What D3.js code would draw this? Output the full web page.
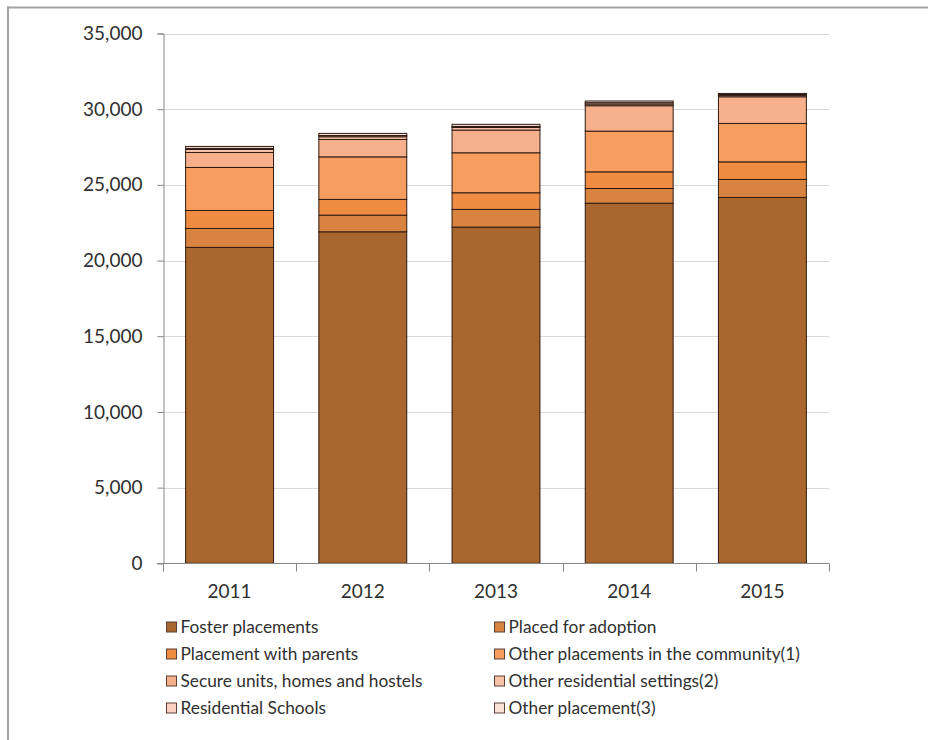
<!DOCTYPE html>
<html>
<head>
<meta charset="utf-8">
<script src="https://cdn.jsdelivr.net/npm/d3@7/dist/d3.min.js"></script>
<style>
  html, body { margin: 0; padding: 0; background: #fff; overflow: hidden; }
  svg { display: block; }
  text { font-family: Lato, "Open Sans", sans-serif; fill: #303030; }
</style>
</head>
<body>
<svg id="chart" width="928" height="740"></svg>
<script>
// Children looked after by placement type, 2011-2015
const years = ["2011", "2012", "2013", "2014", "2015"];

const fosterPlacements      = [20870, 21900, 22210, 23790, 24170];
const placedForAdoption     = [1250, 1100, 1170, 970, 1190];
const placementWithParents  = [1190, 1040, 1100, 1100, 1160];
const otherCommunity        = [2840, 2810, 2640, 2690, 2540];
const secureUnits           = [990, 1150, 1500, 1680, 1760];
const otherResidential      = [200, 180, 170, 110, 90];
const residentialSchools    = [70, 80, 70, 90, 60];
const otherPlacement        = [130, 140, 140, 110, 70];

const seriesNames = [
  "Foster placements",
  "Placed for adoption",
  "Placement with parents",
  "Other placements in the community(1)",
  "Secure units, homes and hostels",
  "Other residential settings(2)",
  "Residential Schools",
  "Other placement(3)"
];
const seriesValues = [
  fosterPlacements, placedForAdoption, placementWithParents, otherCommunity,
  secureUnits, otherResidential, residentialSchools, otherPlacement
];
const seriesColors = [
  "#a9672f", "#d98340", "#ef8c42", "#f79d5f",
  "#f6b18c", "#f7c2a8", "#f9d0c2", "#fbe2d8"
];
const yTicks = [0, 5000, 10000, 15000, 20000, 25000, 30000, 35000];

// Build rows for d3.stack
const rows = years.map((y, i) => {
  const r = { year: y };
  seriesNames.forEach((n, k) => { r[n] = seriesValues[k][i]; });
  return r;
});
const stacked = d3.stack().keys(seriesNames)(rows);

const svg = d3.select("#chart");

// Outer frame: top and left edges (the box runs past the right and bottom)
const frame = svg.append("g")
  .attr("stroke", "#a3a3a3")
  .attr("stroke-width", 2);
frame.append("line").attr("x1", 7).attr("x2", 928).attr("y1", 7.5).attr("y2", 7.5);
frame.append("line").attr("x1", 8).attr("x2", 8).attr("y1", 6.5).attr("y2", 740);

const plot = { left: 163, right: 829, top: 33.5, bottom: 563.3 };

const x = d3.scaleBand()
  .domain(years)
  .range([plot.left, plot.right])
  .paddingInner(0.34)
  .paddingOuter(0.17);

const y = d3.scaleLinear()
  .domain([0, 35000])
  .range([plot.bottom, plot.top]);

// Horizontal gridlines
svg.append("g")
  .selectAll("line")
  .data(yTicks.filter(t => t > 0))
  .join("line")
  .attr("x1", plot.left).attr("x2", plot.right)
  .attr("y1", d => Math.round(y(d)) + 0.5)
  .attr("y2", d => Math.round(y(d)) + 0.5)
  .attr("stroke", "#d9d9d9")
  .attr("stroke-width", 1);

// Stacked bars
svg.append("g")
  .selectAll("g")
  .data(stacked)
  .join("g")
  .attr("fill", (d, i) => seriesColors[i])
  .selectAll("rect")
  .data(d => d)
  .join("rect")
  .attr("x", d => x(d.data.year))
  .attr("width", x.bandwidth())
  .attr("y", d => y(d[1]))
  .attr("height", d => y(d[0]) - y(d[1]))
  .attr("stroke", "#2e1a12")
  .attr("stroke-width", 1);

// Y axis
const yAxis = d3.axisLeft(y)
  .tickValues(yTicks)
  .tickSize(6)
  .tickPadding(15)
  .tickFormat(d3.format(","));
const gy = svg.append("g")
  .attr("transform", `translate(${plot.left + 0.5},0)`)
  .call(yAxis);
gy.select(".domain").attr("stroke", "#868686");
gy.selectAll(".tick line").attr("stroke", "#868686");
gy.selectAll(".tick text")
  .attr("font-size", 19)
  .attr("fill", "#303030")
  .style("font-family", "Lato, 'Open Sans', sans-serif");

// X axis with ticks at category boundaries
const gx = svg.append("g")
  .attr("transform", `translate(0,${Math.round(plot.bottom) + 0.5})`);
gx.append("line")
  .attr("x1", plot.left - 6).attr("x2", plot.right)
  .attr("stroke", "#868686");
const step = x.step();
gx.selectAll("line.bound")
  .data(d3.range(years.length + 1))
  .join("line")
  .attr("class", "bound")
  .attr("x1", i => Math.round(plot.left + i * step) + 0.5)
  .attr("x2", i => Math.round(plot.left + i * step) + 0.5)
  .attr("y1", 0).attr("y2", 8)
  .attr("stroke", "#868686");
gx.selectAll("text")
  .data(years)
  .join("text")
  .attr("x", d => x(d) + x.bandwidth() / 2)
  .attr("y", 34)
  .attr("text-anchor", "middle")
  .attr("font-size", 19)
  .text(d => d);

// Legend, two columns, four rows
const legendCols = [166.5, 494.5];
const legendRows = [627, 654, 681, 708];
const legend = svg.append("g");
seriesNames.forEach((name, i) => {
  const cx = legendCols[i % 2];
  const cy = legendRows[Math.floor(i / 2)];
  legend.append("rect")
    .attr("x", cx).attr("y", cy - 5)
    .attr("width", 10).attr("height", 10)
    .attr("fill", seriesColors[i])
    .attr("stroke", "#5a4036")
    .attr("stroke-width", 1);
  legend.append("text")
    .attr("x", cx + 14)
    .attr("y", cy)
    .attr("dy", "0.35em")
    .attr("font-size", 17.3)
    .text(name);
});
</script>
</body>
</html>
